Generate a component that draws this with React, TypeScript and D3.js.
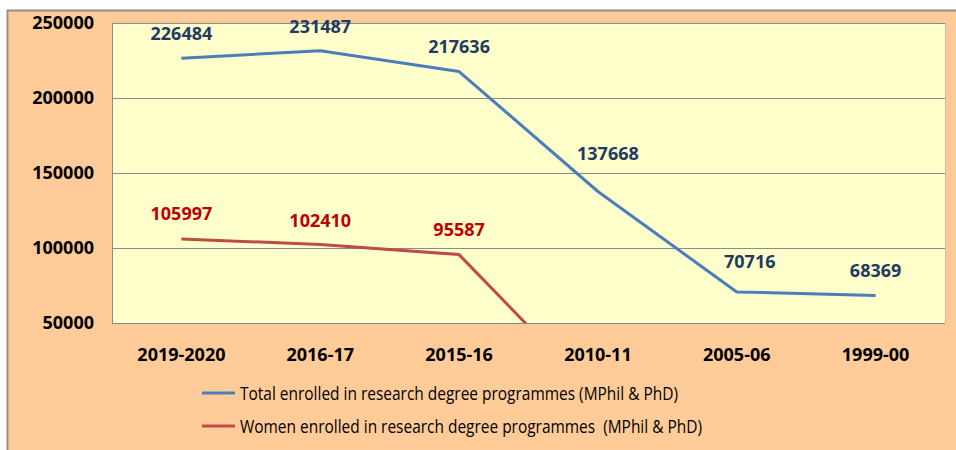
// Externals
import * as d3 from 'd3'
import React, { useEffect, useRef } from 'react'

const categories = ['2019-2020', '2016-17', '2015-16', '2010-11', '2005-06', '1999-00']
const totalValues = [226484, 231487, 217636, 137668, 70716, 68369]
// 2010-11 onward has no women figure in the source sheet, plotted as zero
const womenValues = [105997, 102410, 95587, 0, 0, 0]
const yTicks = [50000, 100000, 150000, 200000, 250000]
const legendLabels = [
  'Total enrolled in research degree programmes (MPhil & PhD)',
  'Women enrolled in research degree programmes  (MPhil & PhD)',
]

// manual nudges of the data labels (dx, dy from the point)
const totalLabelNudge = [[0, -25], [0, -24], [0, -25], [10, -38], [13, -30], [0, -25]]
const womenLabelNudge = [[0, -25], [0, -24], [0, -25], [0, 0], [0, 0], [0, 0]]

const FONT = '"Open Sans", "DejaVu Sans", sans-serif'

const App = () => {
  const svgRef = useRef<any>(null)

  useEffect(() => {
    if (!svgRef.current) return
    d3.select(svgRef.current).selectAll('*').remove()

    const width = 956
    const height = 450
    const plot = { left: 112, right: 945, top: 23, bottom: 323 }

    const svg = d3.select(svgRef.current)
      .attr('width', width)
      .attr('height', height)

    // Chart area
    svg.append('rect')
      .attr('x', 7.5).attr('y', 10.5)
      .attr('width', width + 10).attr('height', height + 10)
      .attr('fill', '#FFCC99')
      .attr('stroke', '#8f8f8f')
      .attr('stroke-width', 2)

    const x = d3.scaleBand()
      .domain(categories)
      .range([plot.left, plot.right])
    const cx = (c: string) => (x(c) as number) + x.bandwidth() / 2

    const y = d3.scaleLinear()
      .domain([50000, 250000])
      .range([plot.bottom, plot.top])

    // Plot area
    svg.append('rect')
      .attr('x', plot.left).attr('y', plot.top)
      .attr('width', plot.right - plot.left)
      .attr('height', plot.bottom - plot.top)
      .attr('fill', '#FFFFCC')

    svg.append('clipPath')
      .attr('id', 'plot-clip')
      .append('rect')
      .attr('x', plot.left).attr('y', plot.top)
      .attr('width', plot.right - plot.left)
      .attr('height', plot.bottom - plot.top)

    // Gridlines
    svg.selectAll('.grid')
      .data(yTicks)
      .enter()
      .append('line')
      .attr('class', 'grid')
      .attr('x1', plot.left).attr('x2', plot.right)
      .attr('y1', (d) => Math.round(y(d)) + 0.5)
      .attr('y2', (d) => Math.round(y(d)) + 0.5)
      .attr('stroke', '#8c8c8c')
      .attr('stroke-width', 1)

    svg.append('line')
      .attr('x1', plot.left + 0.5).attr('x2', plot.left + 0.5)
      .attr('y1', plot.top).attr('y2', plot.bottom)
      .attr('stroke', '#8c8c8c')
    svg.append('line')
      .attr('x1', plot.right + 0.5).attr('x2', plot.right + 0.5)
      .attr('y1', plot.top).attr('y2', plot.bottom)
      .attr('stroke', '#bdbdbd')

    // Y axis labels
    svg.selectAll('.y-label')
      .data(yTicks)
      .enter()
      .append('text')
      .attr('class', 'y-label')
      .attr('x', 94)
      .attr('y', (d) => y(d))
      .attr('dy', '0.35em')
      .attr('text-anchor', 'end')
      .attr('font-family', FONT)
      .attr('font-weight', 'bold')
      .attr('font-size', '18px')
      .attr('fill', '#000')
      .text((d) => d)

    // X axis labels
    svg.selectAll('.x-label')
      .data(categories)
      .enter()
      .append('text')
      .attr('class', 'x-label')
      .attr('x', (d) => cx(d))
      .attr('y', 355)
      .attr('dy', '0.35em')
      .attr('text-anchor', 'middle')
      .attr('font-family', FONT)
      .attr('font-weight', 'bold')
      .attr('font-size', '18px')
      .attr('fill', '#000')
      .text((d) => d)

    const line = d3.line<number>()
      .x((d, i) => cx(categories[i]))
      .y((d) => y(d))

    const series = [
      { values: totalValues, color: '#4A7EBB', labelColor: '#1F3B63', nudge: totalLabelNudge },
      { values: womenValues, color: '#BE4B48', labelColor: '#C00000', nudge: womenLabelNudge },
    ]

    series.forEach((s) => {
      svg.append('path')
        .datum(s.values)
        .attr('d', line)
        .attr('fill', 'none')
        .attr('stroke', s.color)
        .attr('stroke-width', 3)
        .attr('stroke-linejoin', 'round')
        .attr('clip-path', 'url(#plot-clip)')

      svg.append('g')
        .selectAll('text')
        .data(s.values.map((v, i) => ({ v, i })).filter((d) => d.v >= 50000))
        .enter()
        .append('text')
        .attr('x', (d) => cx(categories[d.i]) + s.nudge[d.i][0])
        .attr('y', (d) => y(d.v) + s.nudge[d.i][1])
        .attr('dy', '0.35em')
        .attr('text-anchor', 'middle')
        .attr('font-family', FONT)
        .attr('font-weight', 'bold')
        .attr('font-size', '18px')
        .attr('fill', s.labelColor)
        .text((d) => d.v)
    })

    // Legend
    const legendWidths = [438, 462]
    const legend = svg.append('g')
    series.forEach((s, i) => {
      const ly = 393 + i * 33
      legend.append('line')
        .attr('x1', 202).attr('x2', 235)
        .attr('y1', ly).attr('y2', ly)
        .attr('stroke', s.color)
        .attr('stroke-width', 3)
      legend.append('text')
        .attr('x', 240)
        .attr('y', ly)
        .attr('dy', '0.35em')
        .attr('font-family', FONT)
        .attr('font-size', '19px')
        .attr('font-weight', 500)
        .attr('fill', '#000')
        .attr('textLength', legendWidths[i])
        .attr('lengthAdjust', 'spacingAndGlyphs')
        .style('white-space', 'pre')
        .text(legendLabels[i])
    })
  }, [])

  return (
    <svg ref={svgRef} style={{ position: 'absolute', left: 0, top: 0 }}></svg>
  )
}

export default App
